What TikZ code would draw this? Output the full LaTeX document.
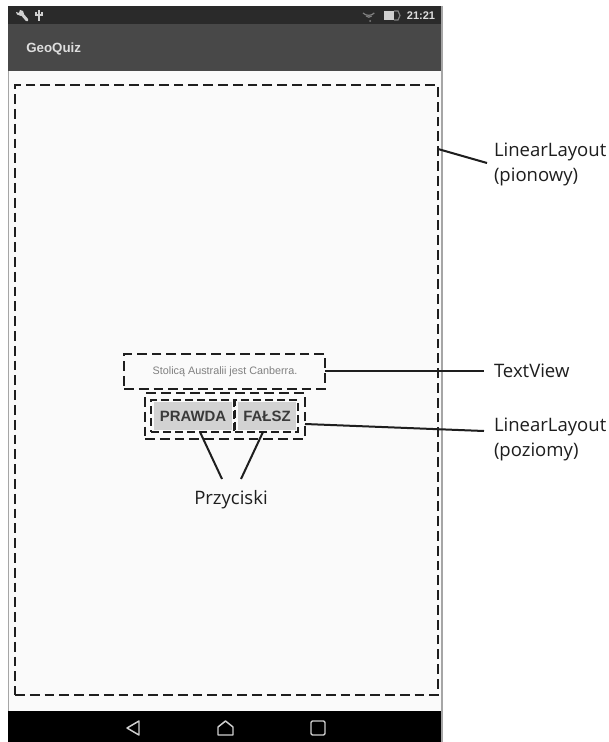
\documentclass[tikz,border=0pt]{standalone}
\usepackage{fontspec}
\setmainfont{Liberation Sans}
\newfontfamily\labelfont{Open Sans}
\usetikzlibrary{calc}
\definecolor{statusbar}{HTML}{2A2A2A}
\definecolor{toolbar}{HTML}{484848}
\definecolor{screenbg}{HTML}{FAFAFA}
\definecolor{btnbg}{HTML}{D2D2D2}
\definecolor{btntext}{HTML}{3A3A3A}
\definecolor{iconc}{HTML}{D0D0D0}
\definecolor{inkc}{HTML}{1E1E1E}
\tikzset{
  x=0.75pt,y=-0.75pt,
  area/.style={rectangle,inner sep=0pt,outer sep=0pt,draw=none},
  dashbox/.style={rectangle,inner sep=0pt,outer sep=0pt,draw=inkc,line width=2.2pt,dash pattern=on 7.4pt off 3.7pt},
  dashboxs/.style={dashbox,line width=2pt,dash pattern=on 6pt off 3pt},
  btn/.style={area,fill=btnbg,text=btntext,font=\fontsize{11.2}{13}\selectfont\bfseries},
  callout/.style={inner sep=0pt,outer sep=0pt,text=inkc,font=\labelfont\fontsize{13.9}{18.3}\selectfont,align=left},
  leader/.style={draw=inkc,line width=1.5pt},
  navicon/.style={draw=iconc,line width=1.1pt,line join=round},
}
\begin{document}
\begin{tikzpicture}
\useasboundingbox (0,0) rectangle (608,742);
% screen
\fill[white] (0,0) rectangle (608,742);
\node[area,fill=screenbg,minimum width=434*0.75pt,minimum height=640*0.75pt,anchor=north west] (screen) at (8,71) {};
\node[area,fill=statusbar,minimum width=434*0.75pt,minimum height=18*0.75pt,anchor=north west] (status) at (8,6) {};
\node[area,fill=toolbar,minimum width=434*0.75pt,minimum height=47*0.75pt,anchor=north west] (tool) at (8,24) {};
\node[area,fill=black,minimum width=434*0.75pt,minimum height=31*0.75pt,anchor=north west] (nav) at (8,711) {};
\draw[gray!70,line width=0.8pt] (442,6) -- (442,742);
\draw[gray!70,line width=0.6pt] (8,71) -- (8,711);
% status icons
\draw[iconc,line width=2.2pt,line cap=round] (21,13) -- (27,20);
\fill[iconc] (20,10) -- (23,11) -- (24,14) -- (21,16) -- (17,14.5) -- (16,12) -- (19,13) -- cycle;
\draw[iconc,line width=1pt] (39,10) -- (39,21) (36,12) -- (36,15) -- (42,15) -- (42,12);
\draw[gray,line width=0.9pt] (363,13) arc[start angle=135,end angle=45,radius=8];
\draw[gray,line width=0.9pt] (366,16) arc[start angle=135,end angle=45,radius=4];
\fill[gray] (370,21) circle (1);
\fill[iconc] (384,11) rectangle (394,20);
\draw[gray,line width=0.9pt] (394,11) -- (398,11) -- (400,15.5) -- (398,20) -- (394,20);
\node[inner sep=0pt,text=iconc!70!white,font=\fontsize{8.3}{10}\selectfont\bfseries] (clock) at (421,16) {21:21};
\node[inner sep=0pt,anchor=west,text=iconc!70!white,font=\fontsize{10}{12}\selectfont\bfseries] (title) at (26,49) {GeoQuiz};
% nav icons
\draw[navicon] (139,721) -- (127,728) -- (139,735) -- cycle;
\draw[navicon] (218,735) -- (218,727) -- (225.5,721) -- (233,727) -- (233,735) -- cycle;
\draw[navicon,rounded corners=1pt] (311,721) rectangle (325,735);
% boxes
\node[dashbox,minimum width=423*0.75pt,minimum height=610*0.75pt] (outer) at (226.5,390) {};
\node[dashbox,minimum width=201*0.75pt,minimum height=35*0.75pt] (tv) at (224.5,371.5) {};
\node[inner sep=0pt,text=gray,font=\fontsize{8.1}{10}\selectfont] (tvtext) at (225,372) {Stolicą Australii jest Canberra.};
\node[dashbox,minimum width=160*0.75pt,minimum height=46*0.75pt] (hl) at (225,416) {};
\node[btn,minimum width=78*0.75pt,minimum height=28*0.75pt] (b1) at (193,416) {PRAWDA};
\node[btn,minimum width=58*0.75pt,minimum height=28*0.75pt] (b2) at (267,416) {FAŁSZ};
\node[dashboxs,minimum width=83*0.75pt,minimum height=32*0.75pt] (b1box) at (192.5,416) {};
\node[dashboxs,minimum width=63*0.75pt,minimum height=32*0.75pt] (b2box) at (266.5,416) {};
% labels
\node[callout,anchor=north west] (l1) at (494,143) {LinearLayout\\(pionowy)};
\node[callout,anchor=west] (l2) at (494,371) {TextView};
\node[callout,anchor=north west] (l3) at (494,418) {LinearLayout\\(poziomy)};
\node[callout,anchor=north] (l4) at (231,490) {Przyciski};
% connectors
\coordinate (e1) at (487,163);
\coordinate (e2) at (484,371);
\coordinate (e3) at (484,431);
\coordinate (e4) at (222,479);
\coordinate (e5) at (241,479);
\draw[leader] (outer.east |- 0,149) -- (e1);
\draw[leader] (tv.east |- e2) -- (e2);
\draw[leader] (hl.east |- 0,424) -- (e3);
\draw[leader] (b1box.south -| 200,0) -- (e4);
\draw[leader] (b2box.south -| 263,0) -- (e5);
\end{tikzpicture}
\end{document}
